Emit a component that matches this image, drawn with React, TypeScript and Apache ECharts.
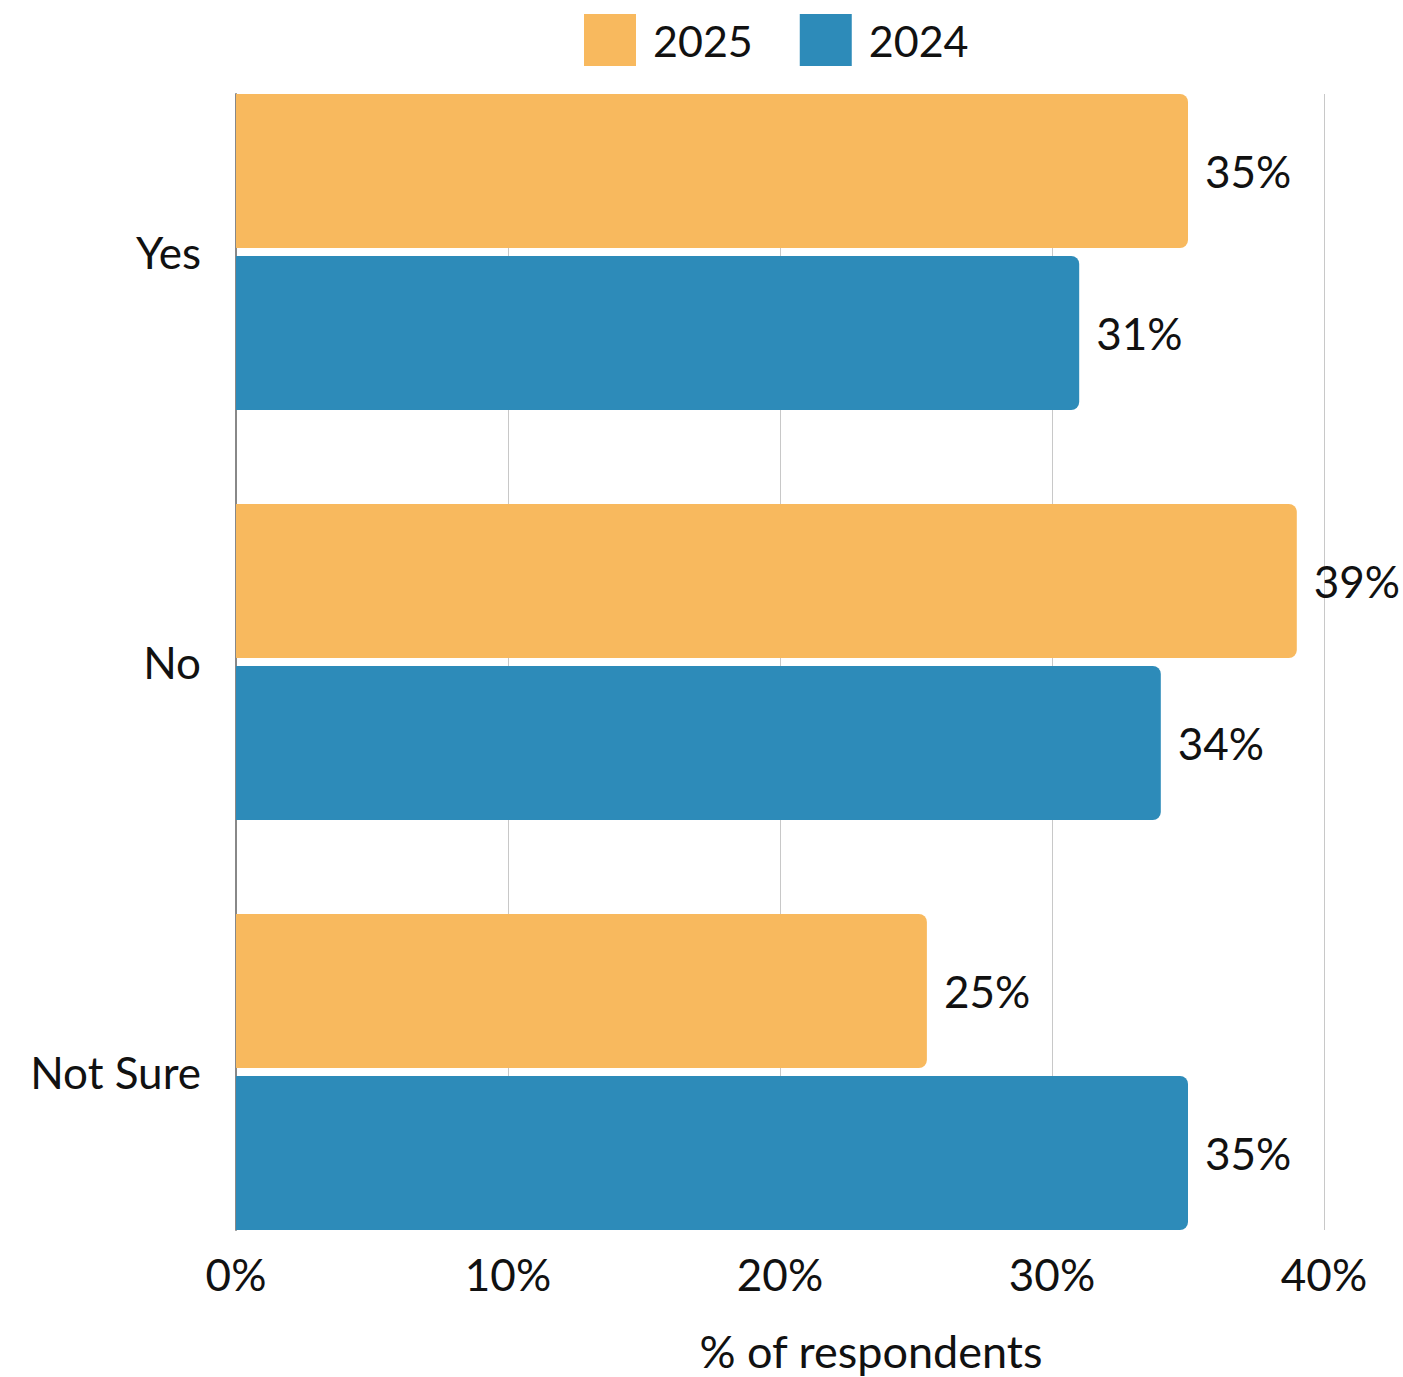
import React, { useEffect, useRef } from "react";
import * as echarts from "echarts";

const categories = ["Yes", "No", "Not Sure"];
const series2025 = [35, 39, 25.4];
const series2024 = [31, 34, 35];
const seriesNames = ["2025", "2024"];
const xTicks = [0, 10, 20, 30, 40];
const axisTitle = "% of respondents";

const FONT = "Lato, 'Open Sans', sans-serif";
const ORANGE = "#F8B95E";
const BLUE = "#2D8BB9";

export default function App() {
  const ref = useRef<HTMLDivElement>(null);
  useEffect(() => {
    document.body.style.margin = "0";
    const chart = echarts.init(ref.current!, null, { renderer: "svg" });
    const labelCfg = {
      show: true,
      position: "right",
      distance: 17,
      fontSize: 44,
      fontFamily: FONT,
      color: "#111",
      formatter: (p: any) => Math.round(p.value) + "%",
    };
    chart.setOption({
      animation: false,
      textStyle: { fontFamily: FONT },
      legend: {
        data: seriesNames,
        top: 14,
        left: 584,
        padding: 0,
        icon: "rect",
        itemWidth: 52,
        itemHeight: 52,
        itemGap: 47,
        textStyle: { fontSize: 43, color: "#111", fontFamily: FONT, padding: [0, 0, 0, 12] },
      },
      grid: [
        { left: 236, width: 1088, top: 94, height: 1136 },
        { left: 236, width: 1088, top: 47, height: 1230 },
      ],
      xAxis: [
        {
          gridIndex: 0,
          type: "value",
          min: xTicks[0],
          max: xTicks[xTicks.length - 1],
          interval: 10,
          axisLine: { show: false },
          axisTick: { show: false },
          axisLabel: { formatter: "{value}%", fontSize: 44, color: "#111", fontFamily: FONT, margin: 22 },
          splitLine: { show: true, lineStyle: { color: "#C8C8C8", width: 1 } },
        },
        {
          gridIndex: 1,
          type: "value",
          min: xTicks[0],
          max: xTicks[xTicks.length - 1],
          show: false,
        },
      ],
      yAxis: [
        {
          gridIndex: 0,
          type: "value",
          min: 0,
          max: 1,
          axisLine: { show: true, lineStyle: { color: "#888", width: 2 } },
          axisTick: { show: false },
          axisLabel: { show: false },
          splitLine: { show: false },
        },
        {
          gridIndex: 1,
          type: "category",
          data: categories,
          inverse: true,
          axisLine: { show: false },
          axisTick: { show: false },
          axisLabel: { fontSize: 44, color: "#111", fontFamily: FONT, margin: 35 },
          splitLine: { show: false },
        },
      ],
      graphic: [
        {
          type: "text",
          x: 871,
          y: 1351,
          style: {
            text: axisTitle,
            fontSize: 45,
            fontFamily: FONT,
            fill: "#111",
            textAlign: "center",
            textVerticalAlign: "middle",
          },
        },
      ],
      series: [
        {
          name: seriesNames[0],
          type: "bar",
          xAxisIndex: 1,
          yAxisIndex: 1,
          data: series2025,
          barWidth: 154,
          barGap: "5.2%",
          itemStyle: { color: ORANGE, borderRadius: [0, 8, 8, 0] },
          label: labelCfg,
        },
        {
          name: seriesNames[1],
          type: "bar",
          xAxisIndex: 1,
          yAxisIndex: 1,
          data: series2024,
          barWidth: 154,
          barGap: "5.2%",
          itemStyle: { color: BLUE, borderRadius: [0, 8, 8, 0] },
          label: labelCfg,
        },
      ],
    });
    return () => chart.dispose();
  }, []);
  return <div ref={ref} style={{ width: 1403, height: 1377 }} />;
}
